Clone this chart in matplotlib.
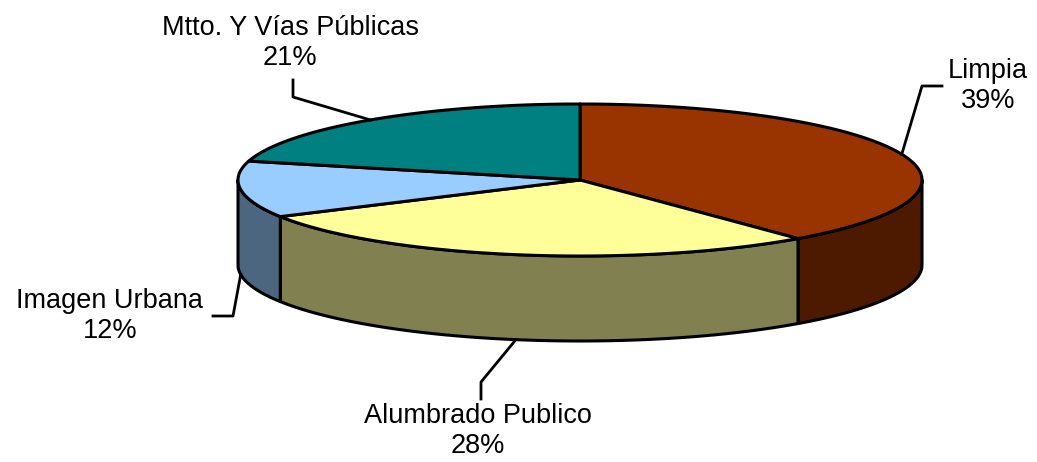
import numpy as np
import matplotlib.pyplot as plt
from matplotlib.patches import Polygon

# data
labels = ["Limpia", "Alumbrado Publico", "Imagen Urbana", "Mtto. Y Vías Públicas"]
shares = [39, 28, 12, 21]
top_colors = ["#993300", "#FFFF99", "#99CCFF", "#008080"]
side_colors = ["#4D1A00", "#808050", "#4C6680", "#004040"]

# layout (pixels)
cx, cy = 580, 180
rx, ry = 342, 76
depth = 85

fig = plt.figure(figsize=(10.37, 4.62), dpi=100)
ax = fig.add_axes([0, 0, 1, 1])
ax.set_xlim(0, 1037)
ax.set_ylim(462, 0)
ax.axis("off")


def ell(theta, dy=0):
    t = np.radians(theta)
    return cx + rx * np.cos(t), cy - ry * np.sin(t) + dy


fracs = np.array(shares) / sum(shares)
starts = 90 - 360 * np.concatenate([[0], np.cumsum(fracs)[:-1]])
ends = starts - 360 * fracs

# side walls (front half only)
for i in range(len(shares)):
    a0, a1 = ends[i], starts[i]
    lo, hi = max(a0, -180), min(a1, 0)
    if lo >= hi:
        continue
    t = np.linspace(lo, hi, 80)
    x, y = ell(t)
    xb, yb = ell(t[::-1], depth)
    pts = np.column_stack([np.concatenate([x, xb]), np.concatenate([y, yb])])
    ax.add_patch(Polygon(pts, closed=True, facecolor=side_colors[i],
                         edgecolor="black", lw=2.2, joinstyle="round"))

# top faces
for i in range(len(shares)):
    t = np.linspace(starts[i], ends[i], 150)
    x, y = ell(t)
    pts = np.column_stack([np.concatenate([[cx], x]), np.concatenate([[cy], y])])
    ax.add_patch(Polygon(pts, closed=True, facecolor=top_colors[i],
                         edgecolor="black", lw=2.2, joinstyle="round"))

# leader lines and labels
mids = (starts + ends) / 2
elbows = [(922, 86), (481, 382), (233, 316), (293, 97)]
ends_ln = [(942, 86), (481, 399), (213, 316), (293, 80)]
text_pos = [(988, 86), (478, 431), (110, 316), (290, 43)]
for i in range(len(shares)):
    m = mids[i]
    x, y = ell(m)
    if np.sin(np.radians(m)) < 0:
        y += depth
    ax.plot([x, elbows[i][0], ends_ln[i][0]], [y, elbows[i][1], ends_ln[i][1]],
            color="black", lw=2)
    ax.text(text_pos[i][0], text_pos[i][1], f"{labels[i]}\n{shares[i]}%",
            ha="center", va="center", fontsize=19.5, family="Liberation Sans",
            linespacing=1.2)

fig.savefig("out.png", dpi=100)
